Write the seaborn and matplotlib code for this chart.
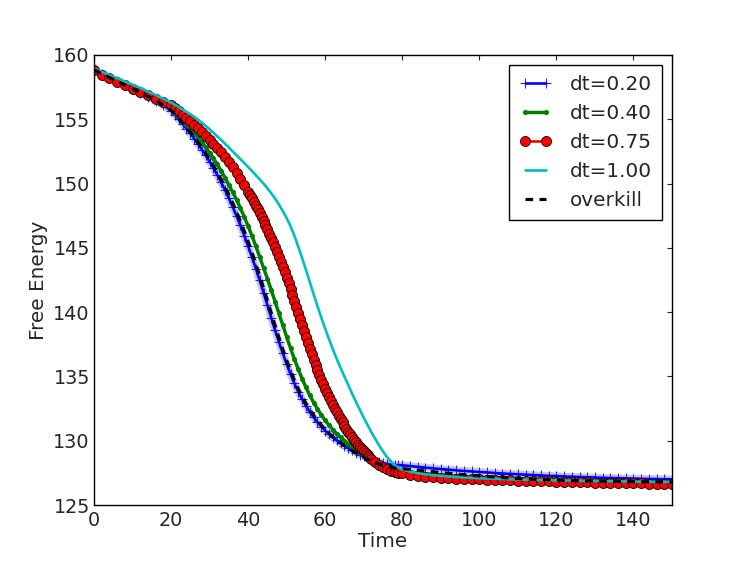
import numpy as np
import pandas as pd
import matplotlib
matplotlib.use("Agg")
import matplotlib.pyplot as plt
import seaborn as sns

# ---- data ----
time = list(range(0, 21, 2)) + list(range(21, 80)) + list(range(80, 151, 2))
# dt=0.75 run is read more finely through its steep part
time_dt075 = (list(range(0, 21, 2)) + list(range(21, 40)) + [40 + 0.5 * k for k in range(65)]
              + list(range(73, 80)) + list(range(80, 151, 2)))

labels = ["dt=0.20", "dt=0.40", "dt=0.75", "dt=1.00", "overkill"]

energy_dt020 = [
    158.83, 158.53, 158.23, 157.94, 157.65, 157.36, 157.07, 156.76, 156.44, 156.08, 155.68,
    155.34, 154.99, 154.64, 154.28, 153.90, 153.50, 153.08, 152.64, 152.19, 151.71,
    151.20, 150.66, 150.10, 149.50, 148.87, 148.20, 147.49, 146.74, 145.96, 145.14,
    144.28, 143.39, 142.47, 141.52, 140.55, 139.57, 138.59, 137.68, 136.80, 135.97,
    135.19, 134.46, 133.81, 133.23, 132.71, 132.24, 131.82, 131.44, 131.10, 130.79,
    130.51, 130.26, 130.03, 129.82, 129.62, 129.43, 129.25, 129.08, 128.92, 128.78,
    128.65, 128.53, 128.42, 128.33, 128.25, 128.19, 128.15, 128.12, 128.10,
    128.09, 128.03, 127.97, 127.91, 127.85, 127.80, 127.75, 127.70, 127.65, 127.61,
    127.57, 127.53, 127.49, 127.45, 127.42, 127.39, 127.36, 127.33, 127.30, 127.27,
    127.25, 127.22, 127.20, 127.18, 127.16, 127.14, 127.12, 127.10, 127.09, 127.07,
    127.06, 127.04, 127.03, 127.02, 127.01, 127.00,
]

energy_dt040 = [
    158.85, 158.55, 158.26, 157.97, 157.69, 157.41, 157.13, 156.84, 156.53, 156.19, 155.80,
    155.52, 155.23, 154.93, 154.62, 154.30, 153.96, 153.60, 153.22, 152.82, 152.40,
    151.96, 151.49, 150.99, 150.46, 149.90, 149.33, 148.73, 148.09, 147.41, 146.69,
    145.93, 145.13, 144.29, 143.45, 142.60, 141.72, 140.82, 139.90, 138.98, 138.08,
    137.20, 136.36, 135.57, 134.83, 134.15, 133.53, 132.97, 132.46, 132.00, 131.58,
    131.20, 130.86, 130.55, 130.27, 130.01, 129.75, 129.50, 129.27, 129.05, 128.84,
    128.64, 128.46, 128.30, 128.16, 128.04, 127.94, 127.85, 127.77, 127.70,
    127.64, 127.57, 127.50, 127.44, 127.38, 127.33, 127.28, 127.24, 127.20, 127.16,
    127.13, 127.10, 127.07, 127.05, 127.03, 127.01, 126.99, 126.97, 126.95, 126.94,
    126.92, 126.91, 126.90, 126.89, 126.88, 126.87, 126.86, 126.85, 126.84, 126.83,
    126.82, 126.81, 126.80, 126.80, 126.79, 126.78,
]

energy_dt075 = [
    158.80, 158.48, 158.18, 157.90, 157.63, 157.37, 157.11, 156.85, 156.60, 156.35, 156.10,
    155.86, 155.62, 155.37, 155.11, 154.86, 154.58, 154.31, 154.03, 153.73, 153.42,
    153.11, 152.78, 152.43, 152.06, 151.67, 151.25, 150.81, 150.35, 149.87,
    149.37, 149.11, 148.84, 148.56, 148.28, 147.99, 147.70, 147.39, 147.09, 146.77,
    146.44, 146.11, 145.77, 145.42, 145.06, 144.69, 144.31, 143.92, 143.52, 143.11,
    142.69, 142.26, 141.81, 141.36, 140.89, 140.42, 139.94, 139.46, 138.98, 138.50,
    138.03, 137.57, 137.13, 136.71, 136.29, 135.89, 135.50, 135.13, 134.76, 134.41,
    134.06, 133.73, 133.41, 133.10, 132.79, 132.50, 132.22, 131.95, 131.68, 131.42,
    131.17, 130.94, 130.71, 130.49, 130.28, 130.08, 129.88, 129.69, 129.51, 129.34,
    129.17, 129.01, 128.86, 128.72, 128.58,
    128.33, 128.11, 127.92, 127.77, 127.66, 127.58, 127.52,
    127.47, 127.36, 127.26, 127.20, 127.15, 127.11, 127.08, 127.05, 127.03, 127.01,
    126.99, 126.97, 126.95, 126.93, 126.91, 126.89, 126.87, 126.86, 126.84, 126.83,
    126.81, 126.80, 126.78, 126.77, 126.76, 126.75, 126.73, 126.72, 126.71, 126.70,
    126.69, 126.68, 126.67, 126.66, 126.65, 126.64,
]

energy_dt100 = [
    158.95, 158.70, 158.45, 158.20, 157.95, 157.70, 157.44, 157.17, 156.89, 156.60, 156.30,
    156.13, 155.95, 155.77, 155.58, 155.39, 155.19, 154.97, 154.74, 154.49, 154.22,
    153.95, 153.67, 153.39, 153.10, 152.80, 152.50, 152.20, 151.90, 151.60, 151.29,
    150.98, 150.66, 150.33, 150.00, 149.64, 149.25, 148.83, 148.37, 147.87, 147.31,
    146.69, 145.95, 145.10, 144.22, 143.30, 142.35, 141.40, 140.47, 139.57, 138.71,
    137.89, 137.11, 136.37, 135.66, 134.98, 134.32, 133.66, 133.02, 132.40, 131.80,
    131.22, 130.66, 130.13, 129.63, 129.17, 128.75, 128.39, 128.11, 127.91,
    127.76, 127.60, 127.48, 127.39, 127.32, 127.27, 127.22, 127.18, 127.14, 127.11,
    127.08, 127.06, 127.04, 127.02, 127.00, 126.99, 126.97, 126.96, 126.94, 126.93,
    126.92, 126.91, 126.90, 126.89, 126.88, 126.87, 126.86, 126.85, 126.84, 126.83,
    126.82, 126.82, 126.81, 126.80, 126.80, 126.79,
]

energy_overkill = [
    158.85, 158.55, 158.25, 157.96, 157.67, 157.38, 157.09, 156.78, 156.46, 156.10, 155.70,
    155.37, 155.03, 154.69, 154.34, 153.98, 153.60, 153.20, 152.78, 152.34, 151.88,
    151.39, 150.87, 150.32, 149.74, 149.13, 148.48, 147.79, 147.06, 146.29, 145.48,
    144.63, 143.74, 142.82, 141.87, 140.90, 139.92, 138.94, 138.00, 137.10, 136.25,
    135.45, 134.70, 134.03, 133.43, 132.89, 132.40, 131.96, 131.56, 131.20, 130.87,
    130.57, 130.30, 130.05, 129.82, 129.61, 129.41, 129.22, 129.04, 128.87, 128.71,
    128.56, 128.42, 128.29, 128.17, 128.07, 127.99, 127.93, 127.88, 127.85,
    127.83, 127.77, 127.71, 127.65, 127.59, 127.53, 127.47, 127.41, 127.36, 127.31,
    127.26, 127.22, 127.18, 127.14, 127.10, 127.06, 127.03, 127.00, 126.98, 126.96,
    126.94, 126.92, 126.90, 126.89, 126.88, 126.87, 126.86, 126.85, 126.84, 126.83,
    126.82, 126.81, 126.81, 126.80, 126.80, 126.79,
]

x_ticks = [0, 20, 40, 60, 80, 100, 120, 140]
y_ticks = [125, 130, 135, 140, 145, 150, 155, 160]

for s in [energy_dt020, energy_dt040, energy_dt100, energy_overkill]:
    assert len(s) == len(time)
assert len(energy_dt075) == len(time_dt075)

# ---- styling ----
sns.set_style("white")
FS = 14.4
TFS = 13.8
plt.rcParams["font.family"] = ["DejaVu Sans"]
plt.rcParams["font.size"] = FS
plt.rcParams["xtick.direction"] = "in"
plt.rcParams["ytick.direction"] = "in"
plt.rcParams["xtick.top"] = True
plt.rcParams["ytick.right"] = True
plt.rcParams["xtick.major.size"] = 3.6
plt.rcParams["ytick.major.size"] = 3.6
plt.rcParams["xtick.major.width"] = 0.8
plt.rcParams["ytick.major.width"] = 0.8
plt.rcParams["xtick.major.pad"] = 4
plt.rcParams["ytick.major.pad"] = 3
plt.rcParams["axes.linewidth"] = 1.0
plt.rcParams["axes.edgecolor"] = "black"

fig = plt.figure(figsize=(7.47, 5.61), dpi=100)
ax = fig.add_axes([0.1258, 0.0998, 0.7738, 0.8022])

BLUE, GREEN, RED, CYAN = (0, 0, 1), (0, 0.5, 0), (1, 0, 0), (0, 0.75, 0.75)
lw = 1.9

# soft halo of the densely drawn '+' markers of the dt=0.20 run
sns.lineplot(x=time, y=energy_dt020, ax=ax, color=BLUE, alpha=0.22, linewidth=5.5,
             estimator=None, sort=False, label="_nolegend_")
sns.lineplot(x=time, y=energy_dt020, ax=ax, color=BLUE, linewidth=lw,
             marker="+", markersize=6.5, markeredgecolor=BLUE, markeredgewidth=0.6,
             label=labels[0], estimator=None, sort=False)
sns.lineplot(x=time, y=energy_dt040, ax=ax, color=GREEN, linewidth=lw + 0.6,
             marker=".", markersize=6, markeredgecolor=GREEN, markerfacecolor=GREEN,
             markeredgewidth=0.6, label=labels[1], estimator=None, sort=False)
sns.lineplot(x=time_dt075, y=energy_dt075, ax=ax, color=RED, linewidth=lw,
             marker="o", markersize=7.2, markerfacecolor=RED, markeredgecolor="black",
             markeredgewidth=0.6, label=labels[2], estimator=None, sort=False)
sns.lineplot(x=time, y=energy_dt100, ax=ax, color=CYAN, linewidth=lw,
             label=labels[3], estimator=None, sort=False)
sns.lineplot(x=time, y=energy_overkill, ax=ax, color="black", linewidth=2.3,
             linestyle=(0, (2.4, 2.0)), label=labels[4], estimator=None, sort=False)

ax.set_xlim(0, 150)
ax.set_ylim(125, 160)
ax.set_xticks(x_ticks)
ax.set_yticks(y_ticks)
ax.set_xlabel("Time", fontsize=FS, labelpad=2)
ax.set_ylabel("Free Energy", fontsize=FS, labelpad=4)
ax.tick_params(labelsize=TFS)
for sp in ax.spines.values():
    sp.set_visible(True)
    sp.set_color("black")

leg = ax.legend(loc="upper right", numpoints=2, fontsize=FS, fancybox=False,
                framealpha=1, edgecolor="black", handlelength=1.65,
                borderaxespad=0.5, labelspacing=0.5, handletextpad=0.9,
                borderpad=0.5)
leg.get_frame().set_linewidth(1.0)

fig.savefig("out.png", dpi=100)
